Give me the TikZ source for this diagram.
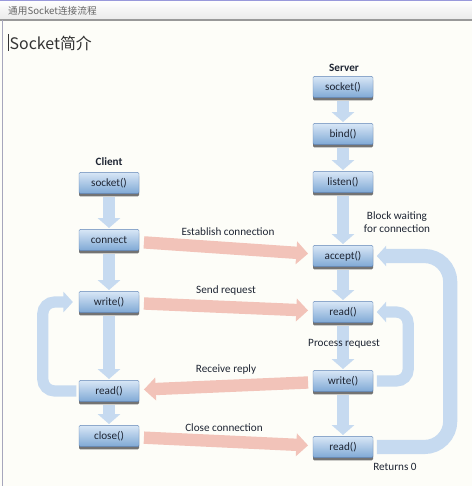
\documentclass[tikz,border=0pt]{standalone}
\usepackage{fontspec}
\setmainfont{Carlito}
\newfontfamily\cjk{Noto Sans CJK SC}
\usetikzlibrary{arrows.meta,shadows}
\tikzset{>=latex}
\definecolor{bg}{HTML}{FDFDF8}
\definecolor{flow}{HTML}{C6DAF0}
\definecolor{msg}{HTML}{F2C3B9}
\definecolor{boxtop}{HTML}{D8E7F6}
\definecolor{boxbot}{HTML}{7FA8D5}
\definecolor{boxline}{HTML}{5F84B6}
\definecolor{ink}{HTML}{1E2533}
\tikzset{
    call/.style={draw=boxline, top color=boxtop, bottom color=boxbot, rounded corners=1pt,
        minimum width=51pt, minimum height=18pt, inner sep=0pt, text=ink,
        font=\fontsize{9.5}{11}\selectfont,
        drop shadow={shadow xshift=0pt, shadow yshift=-2.4pt, fill=black!55, opacity=1}},
    lbl/.style={text=ink, font=\fontsize{9.5}{11}\selectfont, inner sep=0pt},
    flowarrow/.style={draw=flow, line width=11pt, -{Triangle[length=8.5pt,width=19pt]},
        shorten <=3pt, shorten >=1pt},
    msgarrow/.style={draw=msg, line width=10.5pt, -{Triangle[length=10pt,width=19pt]},
        shorten <=4pt, shorten >=4pt},
    loopback/.style={draw=flow, line width=9.5pt, -{Triangle[length=8pt,width=17pt]}}
}

\begin{document}
\begin{tikzpicture}[x=0.85pt, y=-0.85pt]
    \useasboundingbox (0, 0) rectangle (472, 486);
    \fill[bg] (0, 0) rectangle (472, 486);
    % window frame
    \fill[top color=white, bottom color=black!8] (0, 0) rectangle (472, 19);
    \draw[black!35!blue!40, line width=1pt] (0, .6) -- (472, .6);
    \draw[black!40, line width=1.4pt] (0, 19.8) -- (472, 19.8);
    \draw[blue!25!black!35, line width=1.4pt] (2.5, 20) -- (2.5, 486);
    \node[anchor=west, inner sep=0pt, text=black!60, font=\cjk\fontsize{8.2}{10}\selectfont] (title) at (8, 11) {通用Socket连接流程};
    \draw[black!80, line width=.6pt] (8.5, 34) -- (8.5, 51);
    \node[anchor=west, inner sep=0pt, text=black!80, font=\cjk\fontsize{13.5}{16}\selectfont] (heading) at (9.5, 43) {Socket简介};

    % client
    \node[lbl, font=\bfseries\fontsize{9.5}{11}\selectfont] (client) at (109, 162) {Client};
    \node[call] (csocket) at (109, 183) {socket()};
    \node[call] (cconnect) at (109, 240) {connect};
    \node[call] (cwrite) at (109, 302) {write()};
    \node[call] (cread) at (109, 391) {read()};
    \node[call] (cclose) at (109, 436) {close()};

    % server
    \node[lbl, font=\bfseries\fontsize{9.5}{11}\selectfont] (server) at (344, 68) {Server};
    \node[call] (ssocket) at (343, 87) {socket()};
    \node[call] (sbind) at (343, 134) {bind()};
    \node[call] (slisten) at (343, 182) {listen()};
    \node[call] (saccept) at (343, 256) {accept()};
    \node[call] (sread) at (343, 312) {read()};
    \node[call] (swrite) at (343, 381) {write()};
    \node[call] (sreadend) at (343, 447) {read()};

    \draw[flowarrow] (csocket) -- (cconnect);
    \draw[flowarrow] (cconnect) -- (cwrite);
    \draw[flowarrow] (cwrite) -- (cread);
    \draw[flowarrow] (cread) -- (cclose);
    \draw[flowarrow] (ssocket) -- (sbind);
    \draw[flowarrow] (sbind) -- (slisten);
    \draw[flowarrow] (slisten) -- (saccept);
    \draw[flowarrow] (saccept) -- (sread);
    \draw[flowarrow] (sread) -- (swrite);
    \draw[flowarrow] (swrite) -- (sreadend);

    \draw[loopback, rounded corners=10pt, shorten >=5pt, shorten <=2pt] (cread.west) -- ++(-36, 0) |- (cwrite.west);
    \draw[loopback, rounded corners=10pt, shorten >=3pt, shorten <=3pt] (swrite.east) -- ++(35, 0) |- (sread.east);
    \draw[loopback, line width=12pt, rounded corners=22pt, shorten >=3pt, shorten <=3pt] (sreadend.east) -- ++(77, 0) |- (saccept.east);

    \draw[msgarrow] (cconnect) -- (saccept);
    \draw[msgarrow] (cwrite) -- (sread);
    \draw[msgarrow] (swrite) -- (cread);
    \draw[msgarrow] (cclose) -- (sreadend);

    \node[lbl] (lestablish) at (228, 232) {Establish connection};
    \node[lbl] (lsend) at (226, 291) {Send request};
    \node[lbl] (lreceive) at (226, 370) {Receive reply};
    \node[lbl] (lclose) at (224, 428) {Close connection};
    \node[lbl, align=center] (lblock) at (397, 222) {Block waiting\\for connection};
    \node[lbl] (lprocess) at (344, 344) {Process request};
    \node[lbl] (lreturns) at (395, 467) {Returns 0};
\end{tikzpicture}
\end{document}
